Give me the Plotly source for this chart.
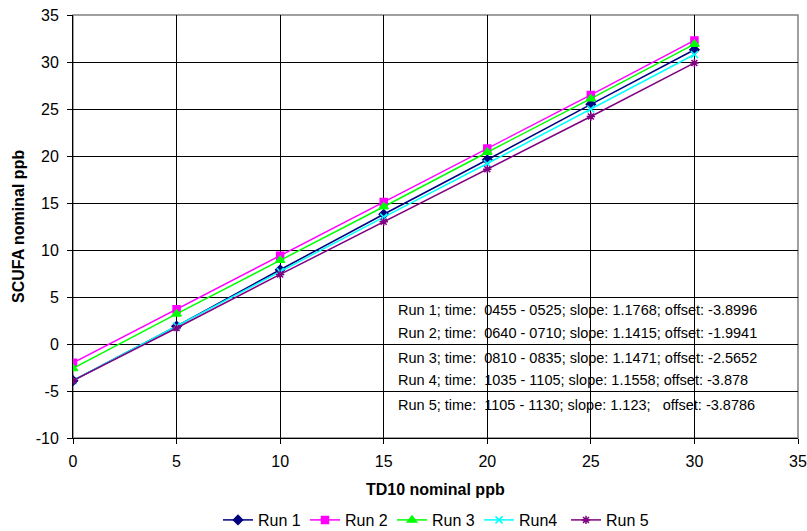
import plotly.graph_objects as go

x_vals = [0, 5, 10, 15, 20, 25, 30]
run1 = [-3.9, 1.9, 7.9, 13.8, 19.6, 25.5, 31.3]
run2 = [-2.0, 3.7, 9.4, 15.1, 20.8, 26.5, 32.3]
run3 = [-2.6, 3.2, 8.9, 14.6, 20.4, 26.1, 31.9]
run4 = [-3.9, 1.9, 7.7, 13.5, 19.2, 25.0, 30.8]
run5 = [-3.9, 1.7, 7.4, 13.0, 18.6, 24.2, 29.9]

series_names = ["Run 1", "Run 2", "Run 3", "Run4", "Run 5"]
notes = [
    "Run 1; time:  0455 - 0525; slope: 1.1768; offset: -3.8996",
    "Run 2; time:  0640 - 0710; slope: 1.1415; offset: -1.9941",
    "Run 3; time:  0810 - 0835; slope: 1.1471; offset: -2.5652",
    "Run 4; time:  1035 - 1105; slope: 1.1558; offset: -3.878",
    "Run 5; time:  1105 - 1130; slope: 1.123;   offset: -3.8786",
]
note_y = [310, 333, 358, 380, 405]  # pixel rows

x_ticks = [0, 5, 10, 15, 20, 25, 30, 35]
x_ticklabels = ["0", "5", "10", "15", "20", "25", "30", "35"]
y_ticks = [-10, -5, 0, 5, 10, 15, 20, 25, 30, 35]
y_ticklabels = ["-10", "-5", "0", "5", "10", "15", "20", "25", "30", "35"]

colors = ["#000080", "#FF00FF", "#00FF00", "#00FFFF", "#800080"]
symbols = ["diamond", "square", "triangle-up", "x-thin-open", "asterisk-open"]
sizes = [7, 7, 8, 7, 7]

FONT = "Liberation Sans, Arial, sans-serif"

fig = go.Figure()
for name, ys, c, s, sz in zip(series_names, [run1, run2, run3, run4, run5], colors, symbols, sizes):
    fig.add_trace(go.Scatter(
        x=x_vals, y=ys, name=name, mode="lines+markers",
        line=dict(color=c, width=1.5),
        marker=dict(symbol=s, size=sz, color=c, line=dict(color=c, width=1.5)),
    ))

W, H = 807, 531
L, R, T, B = 73, 9, 15, 93
pw = W - L - R
ph = H - T - B


def px_to_paper_y(py):
    return (H - B - py) / ph


def px_to_paper_x(px):
    return (px - L) / pw


for txt, py in zip(notes, note_y):
    fig.add_annotation(
        x=px_to_paper_x(396), y=px_to_paper_y(py), xref="paper", yref="paper",
        text=txt.replace(" ", "\u00a0"), showarrow=False,
        xanchor="left", yanchor="middle",
        font=dict(family=FONT, size=14.5, color="black"),
    )

# axis titles
fig.add_annotation(
    x=0.5, y=px_to_paper_y(489), xref="paper", yref="paper",
    text="<b>TD10 nominal ppb</b>", showarrow=False,
    xanchor="center", yanchor="middle",
    font=dict(family=FONT, size=16, color="black"),
)
fig.add_annotation(
    x=px_to_paper_x(18.5), y=0.5, xref="paper", yref="paper",
    text="<b>SCUFA nominal ppb</b>", showarrow=False, textangle=-90,
    xanchor="center", yanchor="middle",
    font=dict(family=FONT, size=16, color="black"),
)

fig.update_layout(
    width=W, height=H,
    margin=dict(l=L, r=R, t=T, b=B, autoexpand=False),
    paper_bgcolor="white", plot_bgcolor="white",
    font=dict(family=FONT, size=16, color="black"),
    showlegend=True,
    legend=dict(orientation="h", x=0.5, xanchor="center", y=px_to_paper_y(520), yanchor="middle",
                font=dict(size=16), itemwidth=30, tracegroupgap=0,
                entrywidth=42, entrywidthmode="pixels",
                bgcolor="rgba(0,0,0,0)"),
    shapes=[dict(type="rect", xref="paper", yref="paper", x0=0, x1=1, y0=0, y1=1,
                 line=dict(color="#808080", width=1.5), layer="below")],
)
fig.update_xaxes(
    range=[0, 35], tickvals=x_ticks, ticktext=x_ticklabels, automargin=False,
    showgrid=True, gridcolor="black", gridwidth=1,
    showline=True, linecolor="black", linewidth=1,
    ticks="outside", ticklen=5, tickcolor="black",
    zeroline=False, tickfont=dict(size=16), ticklabelstandoff=4,
)
fig.update_yaxes(
    range=[-10, 35], tickvals=y_ticks, ticktext=y_ticklabels, automargin=False,
    showgrid=True, gridcolor="black", gridwidth=1,
    showline=True, linecolor="black", linewidth=1,
    ticks="outside", ticklen=5, tickcolor="black",
    zeroline=False, tickfont=dict(size=16), ticklabelstandoff=5,
)

fig.write_html("out.html", config={"displayModeBar": False},
               post_script="document.body.style.margin='0';document.body.style.overflow='hidden';")
